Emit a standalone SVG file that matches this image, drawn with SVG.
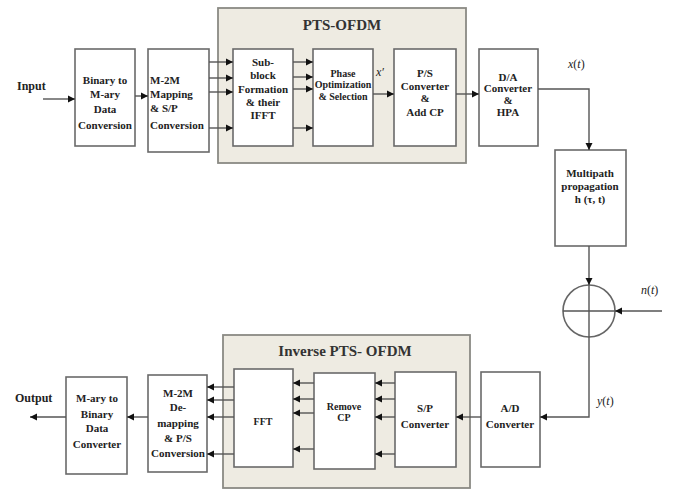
<svg xmlns="http://www.w3.org/2000/svg" width="676" height="491" viewBox="0 0 676 491">
<style>
.bg{fill:#ffffff}
.cont{fill:#eeebe2;stroke:#8a8a84;stroke-width:1.8}
.box{fill:#ffffff;stroke:#6a6a6a;stroke-width:1.6}
.t{font-family:'Liberation Serif','DejaVu Serif',serif;font-weight:bold;font-size:11px;fill:#222;text-anchor:middle}
.ts{font-size:10px}
.title{font-family:'Liberation Serif','DejaVu Serif',serif;font-weight:bold;font-size:15px;fill:#333;text-anchor:middle}
.lab{font-family:'Liberation Serif','DejaVu Serif',serif;font-weight:bold;font-size:12px;fill:#222}
.math{font-family:'Liberation Serif','DejaVu Serif',serif;font-size:12px;fill:#222}
.c{fill:none;stroke:#555;stroke-width:1.4}
.ca{fill:none;stroke:#555;stroke-width:1.4;marker-end:url(#ah)}
</style>
<defs>
<marker id="ah" markerUnits="userSpaceOnUse" markerWidth="8" markerHeight="8" refX="7" refY="4" orient="auto">
<path d="M0,0.5 L7,4 L0,7.5 z" fill="#111"/>
</marker>
</defs>
<rect class="bg" x="0" y="0" width="676" height="491"/>

<g id="pts-ofdm">
<rect class="cont" x="218" y="8" width="248" height="155"/>
<text class="title" x="342" y="30">PTS-OFDM</text>
</g>
<g id="inverse-pts-ofdm">
<rect class="cont" x="223" y="335" width="247" height="153"/>
<text class="title" x="345" y="356">Inverse PTS- OFDM</text>
</g>

<g id="input-label"><text class="lab" x="17" y="90">Input</text></g>
<g id="output-label"><text class="lab" x="15" y="402">Output</text></g>

<g id="binary-to-mary">
<rect class="box" x="75" y="49" width="60" height="97"/>
<text class="t" x="105" y="84">Binary to</text>
<text class="t" x="105" y="98">M-ary</text>
<text class="t" x="105" y="113">Data</text>
<text class="t" x="105" y="129">Conversion</text>
</g>
<g id="m2m-mapping">
<rect class="box" x="148" y="49" width="61" height="103"/>
<text class="t" x="150" y="84" style="text-anchor:start">M-2M</text>
<text class="t" x="150" y="98" style="text-anchor:start">Mapping</text>
<text class="t" x="150" y="112" style="text-anchor:start">&amp; S/P</text>
<text class="t" x="150" y="129" style="text-anchor:start">Conversion</text>
</g>
<g id="subblock">
<rect class="box" x="233" y="49" width="60" height="97"/>
<text class="t" x="263" y="66">Sub-</text>
<text class="t" x="263" y="79">block</text>
<text class="t" x="263" y="93">Formation</text>
<text class="t" x="263" y="106">&amp; their</text>
<text class="t" x="263" y="119">IFFT</text>
</g>
<g id="phase-opt">
<rect class="box" x="313" y="49" width="60" height="97"/>
<text class="t ts" x="343" y="77">Phase</text>
<text class="t ts" x="343" y="88">Optimization</text>
<text class="t ts" x="343" y="100">&amp; Selection</text>
</g>
<g id="ps-converter">
<rect class="box" x="394" y="49" width="62" height="97"/>
<text class="t" x="425" y="77">P/S</text>
<text class="t" x="425" y="90">Converter</text>
<text class="t" x="425" y="102">&amp;</text>
<text class="t" x="425" y="116">Add CP</text>
</g>
<g id="da-converter">
<rect class="box" x="479" y="49" width="59" height="97"/>
<text class="t" x="508" y="81">D/A</text>
<text class="t" x="508" y="92">Converter</text>
<text class="t" x="508" y="104">&amp;</text>
<text class="t" x="508" y="116">HPA</text>
</g>
<g id="multipath">
<rect class="box" x="555" y="150" width="71" height="96"/>
<text class="t" x="590" y="177">Multipath</text>
<text class="t" x="590" y="190">propagation</text>
<text class="t" x="590" y="203">h (τ, t)</text>
</g>
<g id="adder">
<circle cx="589" cy="311" r="26" fill="#ffffff" stroke="#666" stroke-width="1.6"/>
<path class="c" d="M563,311 H615 M589,285 V337"/>
</g>
<g id="ad-converter">
<rect class="box" x="481" y="372" width="59" height="95"/>
<text class="t" x="510" y="412">A/D</text>
<text class="t" x="510" y="428">Converter</text>
</g>
<g id="sp-converter">
<rect class="box" x="395" y="372" width="61" height="95"/>
<text class="t" x="425" y="412">S/P</text>
<text class="t" x="425" y="428">Converter</text>
</g>
<g id="remove-cp">
<rect class="box" x="314" y="373" width="61" height="96"/>
<text class="t ts" x="344" y="410">Remove</text>
<text class="t ts" x="344" y="421">CP</text>
</g>
<g id="fft">
<rect class="box" x="234" y="369" width="59" height="98"/>
<text class="t ts" x="263" y="425">FFT</text>
</g>
<g id="m2m-demapping">
<rect class="box" x="148" y="375" width="59" height="97"/>
<text class="t" x="178" y="397">M-2M</text>
<text class="t" x="178" y="411">De-</text>
<text class="t" x="178" y="427">mapping</text>
<text class="t" x="178" y="442">&amp; P/S</text>
<text class="t" x="178" y="457">Conversion</text>
</g>
<g id="mary-to-binary">
<rect class="box" x="66" y="377" width="61" height="97"/>
<text class="t" x="97" y="402">M-ary to</text>
<text class="t" x="97" y="418">Binary</text>
<text class="t" x="97" y="432">Data</text>
<text class="t" x="97" y="448">Converter</text>
</g>

<g id="labels">
<text class="math" x="568" y="68"><tspan font-style="italic">x</tspan>(<tspan font-style="italic">t</tspan>)</text>
<text class="math" x="376" y="76" font-style="italic">x′</text>
<text class="math" x="641" y="294"><tspan font-style="italic">n</tspan>(<tspan font-style="italic">t</tspan>)</text>
<text class="math" x="597" y="405"><tspan font-style="italic">y</tspan>(<tspan font-style="italic">t</tspan>)</text>
</g>

<g id="connectors">
<path class="ca" d="M43,99 H75"/>
<path class="ca" d="M135,96 H148"/>
<path class="ca" d="M209,62 H233"/>
<path class="ca" d="M209,78 H233"/>
<path class="ca" d="M209,92 H233"/>
<path class="ca" d="M209,128 H233"/>
<path class="ca" d="M293,62 H313"/>
<path class="ca" d="M293,77 H313"/>
<path class="ca" d="M293,89 H313"/>
<path class="ca" d="M293,128 H313"/>
<path class="ca" d="M373,94 H394"/>
<path class="ca" d="M456,94 H479"/>
<path class="ca" d="M538,89 H589 V150"/>
<path class="ca" d="M589,246 V285"/>
<path class="ca" d="M662,311 H615"/>
<path class="ca" d="M589,337 V417 H540"/>
<path class="ca" d="M481,417 H456"/>
<path class="ca" d="M395,383 H375"/>
<path class="ca" d="M395,399 H375"/>
<path class="ca" d="M395,417 H375"/>
<path class="ca" d="M395,454 H375"/>
<path class="ca" d="M314,383 H293"/>
<path class="ca" d="M314,399 H293"/>
<path class="ca" d="M314,413 H293"/>
<path class="ca" d="M314,449 H293"/>
<path class="ca" d="M234,387 H207"/>
<path class="ca" d="M234,400 H207"/>
<path class="ca" d="M234,417 H207"/>
<path class="ca" d="M234,454 H207"/>
<path class="ca" d="M148,417 H127"/>
<path class="ca" d="M66,417 H30"/>
</g>
</svg>
